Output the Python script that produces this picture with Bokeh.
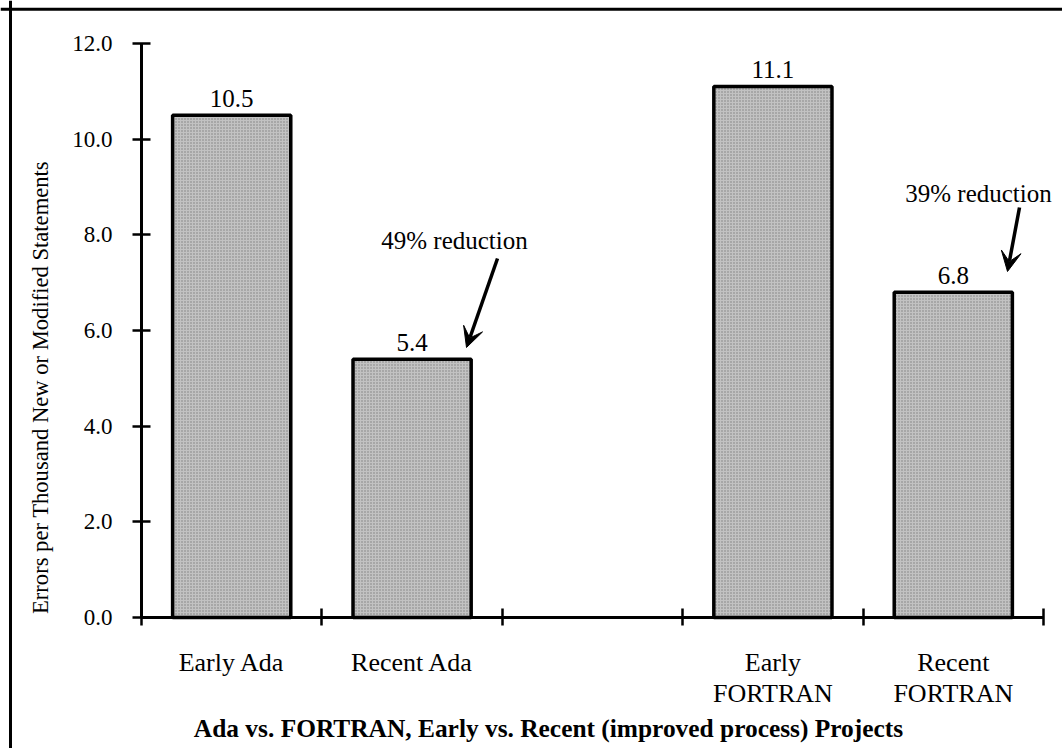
import math
from bokeh.plotting import figure
from bokeh.models import (Range1d, LinearAxis, FixedTicker, PrintfTickFormatter,
                          ColumnDataSource, Arrow, VeeHead, Span)
from bokeh.core.properties import value
from bokeh.embed import file_html
from bokeh.resources import INLINE

# ---------------- data ----------------
label_line1 = ["Early Ada", "Recent Ada", "Early", "Recent"]
label_line2 = ["", "", "FORTRAN", "FORTRAN"]
slot_index = [0, 1, 3, 4]
errors = [10.5, 5.4, 11.1, 6.8]
value_text = ["10.5", "5.4", "11.1", "6.8"]
y_ticks = [0, 2, 4, 6, 8, 10, 12]
x_ticks = [0, 1, 2, 3, 4, 5]
reduction_text = ["49% reduction", "39% reduction"]
title_text = "Ada vs. FORTRAN, Early vs. Recent (improved process) Projects"
y_title = "Errors per Thousand New or Modified Statements"

# ---------------- geometry ----------------
W, H = 1062, 748
OX, OY = 141, 617          # pixel position of the data origin
SX = 180.4                 # px per slot
SY = 47.833                # px per unit
X0 = -OX / SX
X1 = 5 + (W - 1043) / SX
Y0 = -(H - OY) / SY
Y1 = 12 + 43 / SY


def dx(px):
    return (px - OX) / SX


def dy(py):
    return (OY - py) / SY


FONT = value("Liberation Serif")

p = figure(width=W, height=H, output_backend="svg", toolbar_location=None,
           x_range=Range1d(X0, X1), y_range=Range1d(Y0, Y1),
           x_axis_type=None, y_axis_type=None,
           min_border=0, min_border_left=0, min_border_right=0,
           min_border_top=0, min_border_bottom=0)
p.outline_line_color = None
p.background_fill_color = "white"
p.border_fill_color = "white"
p.xgrid.visible = False
p.ygrid.visible = False

# frame of the original figure (top and left edges)
p.add_layout(Span(location=dx(10), dimension="height", line_color="black", line_width=3))
p.add_layout(Span(location=dy(8.7), dimension="width", line_color="black", line_width=3))

centers = [s + 0.5 for s in slot_index]
src = ColumnDataSource(dict(x=centers, top=errors, lab=value_text,
                            l1=label_line1, l2=label_line2))

p.vbar(x="x", top="top", bottom=0, width=0.655, source=src,
       fill_color="#c2c2c2", line_color="black", line_width=3.5,
       hatch_pattern="dot", hatch_color="#7e7e7e", hatch_scale=3, hatch_weight=1)

# value labels above bars
p.text(x="x", y="top", text="lab", source=src, text_font=FONT,
       text_font_size="25px", text_align="center", text_baseline="alphabetic",
       y_offset=-17, text_color="black")

# category labels
p.text(x="x", y=0, text="l1", source=src, text_font=FONT, text_font_size="26px",
       text_align="center", text_baseline="alphabetic", y_offset=45, text_color="black")
p.text(x="x", y=0, text="l2", source=src, text_font=FONT, text_font_size="26px",
       text_align="center", text_baseline="alphabetic", y_offset=76, text_color="black")

# axes
yaxis = LinearAxis(fixed_location=0, bounds=(0, 12),
                   ticker=FixedTicker(ticks=y_ticks, minor_ticks=[]),
                   formatter=PrintfTickFormatter(format="%.1f"))
yaxis.axis_line_width = 3
yaxis.major_tick_line_width = 2.5
yaxis.major_tick_in = 9
yaxis.major_tick_out = 9
yaxis.minor_tick_line_color = None
yaxis.major_label_standoff = 20
yaxis.major_label_text_font = "Liberation Serif"
yaxis.major_label_text_font_size = "23px"
yaxis.major_label_text_color = "black"
p.add_layout(yaxis, "left")

xaxis = LinearAxis(fixed_location=0, bounds=(0, 5),
                   ticker=FixedTicker(ticks=x_ticks, minor_ticks=[]),
                   major_label_overrides={t: "" for t in x_ticks})
xaxis.axis_line_width = 3
xaxis.major_tick_line_width = 2.5
xaxis.major_tick_in = 9
xaxis.major_tick_out = 8
xaxis.minor_tick_line_color = None
p.add_layout(xaxis, "below")

# y-axis title
p.text(x=[dx(40)], y=[dy(387)], text=[y_title], angle=math.pi / 2,
       text_font=FONT, text_font_size="22.6px", text_align="center",
       text_baseline="middle", text_color="black")

# figure title
p.text(x=[dx(548)], y=[dy(728)], text=[title_text],
       text_font=FONT, text_font_size="25.4px", text_font_style="bold",
       text_align="center", text_baseline="alphabetic", text_color="black")

# reduction annotations
p.text(x=[dx(454), dx(978)], y=[dy(240), dy(193)], text=reduction_text,
       text_font=FONT, text_font_size="25px", text_align="center",
       text_baseline="alphabetic", text_color="black")

p.add_layout(Arrow(x_start=dx(497), y_start=dy(258), x_end=dx(466), y_end=dy(347),
                   line_width=3.5, line_color="black",
                   end=VeeHead(size=20, fill_color="black", line_color="black")))
p.add_layout(Arrow(x_start=dx(1019), y_start=dy(207), x_end=dx(1007), y_end=dy(271),
                   line_width=3.5, line_color="black",
                   end=VeeHead(size=20, fill_color="black", line_color="black")))

open("out.html", "w").write(file_html(p, INLINE))
